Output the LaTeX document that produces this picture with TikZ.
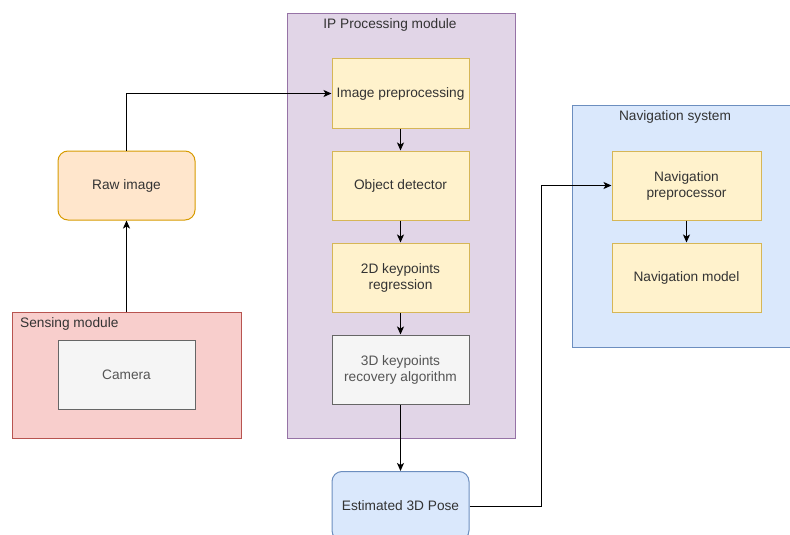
\documentclass[tikz,border=0pt]{standalone}
\usepackage{fontspec}
\setmainfont{Liberation Sans}
\usetikzlibrary{arrows.meta}
\definecolor{orgfill}{HTML}{FFE6CC}
\definecolor{orgline}{HTML}{D79B00}
\definecolor{redfill}{HTML}{F8CECC}
\definecolor{redline}{HTML}{B85450}
\definecolor{grayfill}{HTML}{F5F5F5}
\definecolor{grayline}{HTML}{666666}
\definecolor{purfill}{HTML}{E1D5E7}
\definecolor{purline}{HTML}{9673A6}
\definecolor{yelfill}{HTML}{FFF2CC}
\definecolor{yelline}{HTML}{D6B656}
\definecolor{bluefill}{HTML}{DAE8FC}
\definecolor{blueline}{HTML}{6C8EBF}
\definecolor{txt}{HTML}{333333}
\definecolor{greytxt}{HTML}{555555}
\tikzset{flow/.style={-{Stealth[length=8pt,width=7pt,inset=2pt]}, line width=1pt},
  blk/.style={draw, line width=1pt, minimum width=137pt, minimum height=69pt,
    align=center, text=txt, font=\fontsize{13.7}{16}\selectfont},
  stage/.style={blk, fill=yelfill, draw=yelline},
  plainbox/.style={blk, fill=grayfill, draw=grayline, text=greytxt},
  group/.style={draw, line width=1pt, anchor=north west, inner sep=0pt},
  grouplabel/.style={text=txt, inner sep=0pt, font=\fontsize{13.7}{16}\selectfont}}

\begin{document}
\begin{tikzpicture}[x=1pt,y=-1pt]
  \useasboundingbox (0,0) rectangle (790,535);
  \clip (0,0) rectangle (790,535);
  % module frames
  \node[group, fill=redfill, draw=redline, minimum width=229pt, minimum height=126pt] (sense) at (12,312) {};
  \node[grouplabel, anchor=west] (senselbl) at (20,324) {Sensing module};
  \node[group, fill=purfill, draw=purline, minimum width=228pt, minimum height=425pt] (ipm) at (287,13) {};
  \node[grouplabel] (ipmlbl) at (390,25) {IP Processing module};
  \node[group, fill=bluefill, draw=blueline, minimum width=232pt, minimum height=242pt] (navsys) at (572,105) {};
  \node[grouplabel] (navlbl) at (675,117) {Navigation system};
  % sensing side
  \node[plainbox] (cam) at (126.5,375) {Camera};
  \node[blk, fill=orgfill, draw=orgline, rounded corners=10pt] (raw) at (126.5,185.5) {Raw image};
  % processing chain
  \node[stage] (prep) at (400.5,93.5) {Image preprocessing};
  \node[stage] (det) at (400.5,185.5) {Object detector};
  \node[stage] (kp2d) at (400.5,277.5) {2D keypoints\\regression};
  \node[plainbox] (kp3d) at (400.5,369.5) {3D keypoints\\recovery algorithm};
  \node[blk, fill=bluefill, draw=blueline, rounded corners=10pt] (pose) at (400.5,506) {Estimated 3D Pose};
  % navigation
  \node[stage, minimum width=149pt] (navpre) at (686.5,185.5) {Navigation\\preprocessor};
  \node[stage, minimum width=149pt] (navmod) at (686.5,277.5) {Navigation model};
  % connectors
  \draw[flow] (sense.north -| raw) -- (raw.south);
  \draw[flow] (raw.north) |- (prep.west);
  \draw[flow] (prep) -- (det);
  \draw[flow] (det) -- (kp2d);
  \draw[flow] (kp2d) -- (kp3d);
  \draw[flow] (kp3d) -- (pose);
  \draw[flow] (pose.east) -- ++(72,0) |- (navpre.west);
  \draw[flow] (navpre) -- (navmod);
\end{tikzpicture}
\end{document}
